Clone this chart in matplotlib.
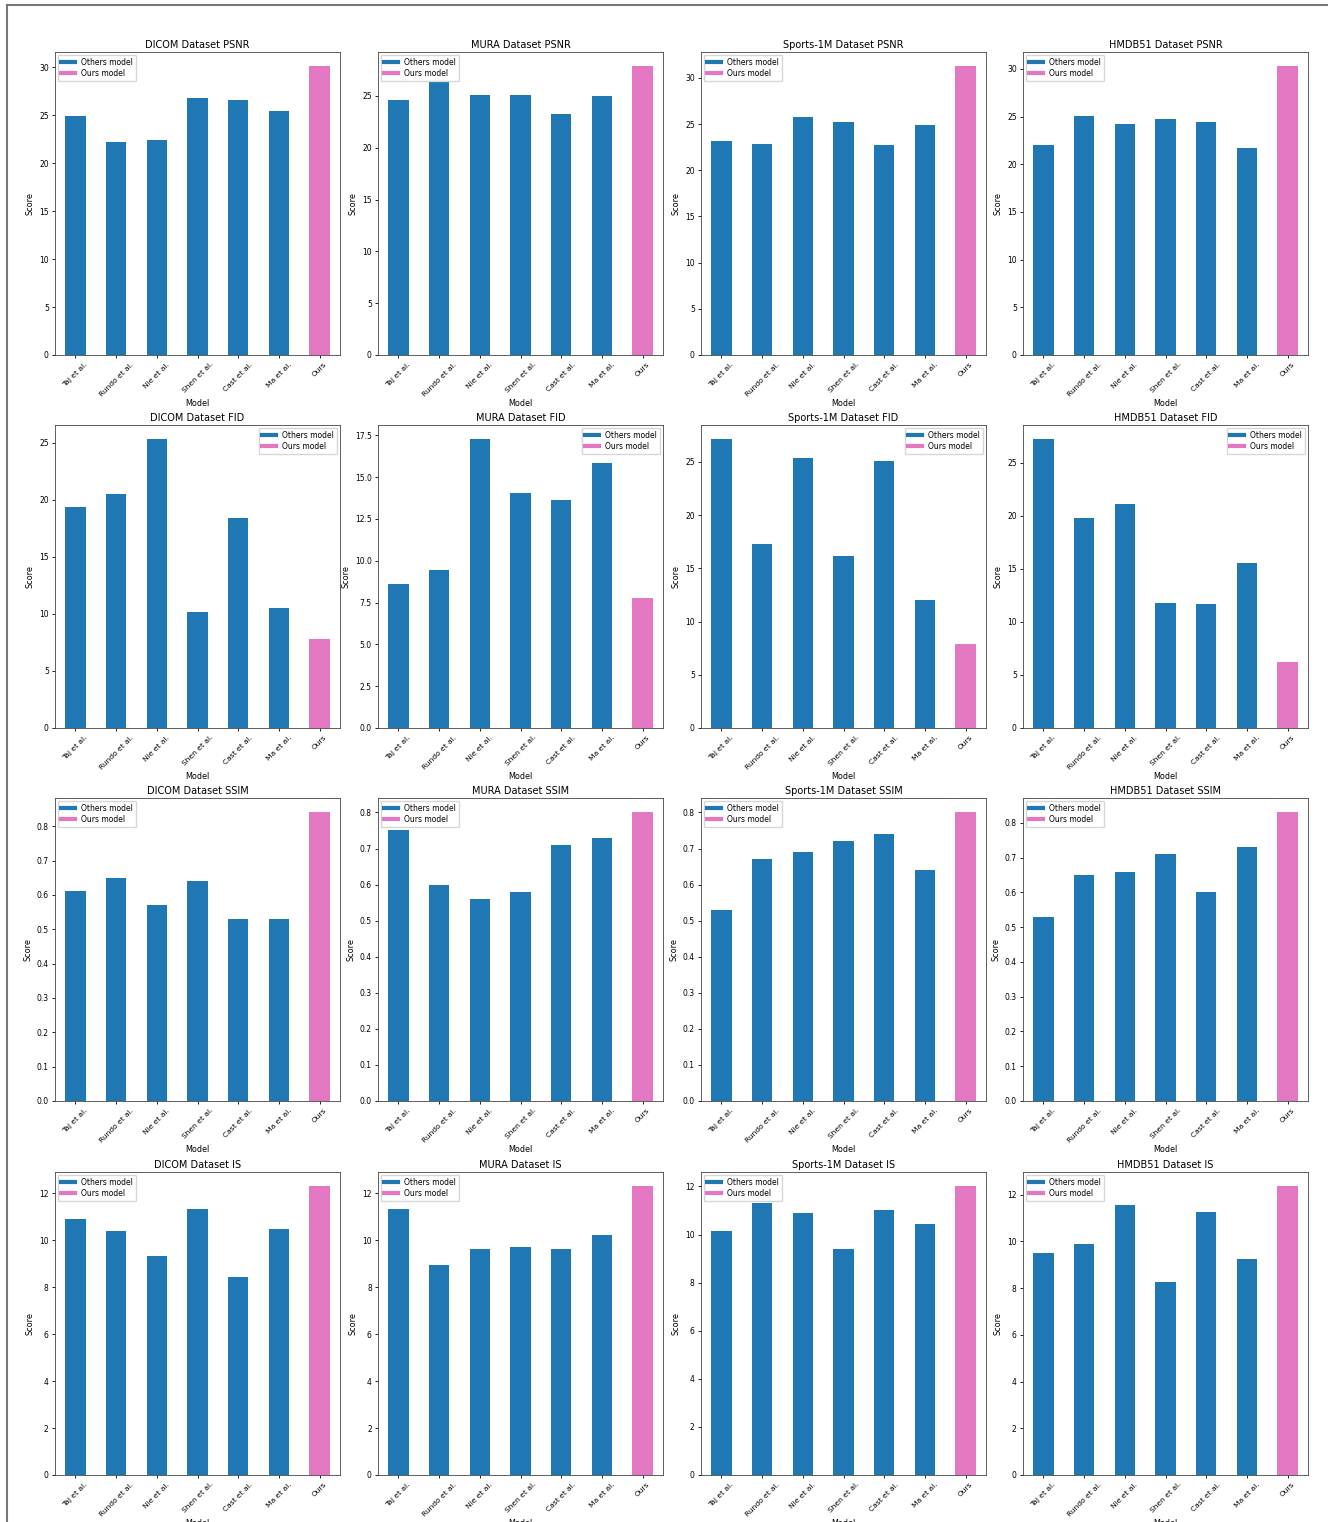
import matplotlib
matplotlib.use('Agg')
import matplotlib.pyplot as plt
from matplotlib.lines import Line2D

models = ['Taj et al.', 'Rundo et al.', 'Nie et al.', 'Shen et al.', 'Cast et al.', 'Ma et al.', 'Ours']
datasets = ['DICOM', 'MURA', 'Sports-1M', 'HMDB51']
metrics = ['PSNR', 'FID', 'SSIM', 'IS']

# PSNR per dataset
psnr_dicom = [24.95, 22.25, 22.4, 26.8, 26.6, 25.5, 30.1]
psnr_mura = [24.6, 26.35, 25.1, 25.1, 23.25, 25.0, 27.85]
psnr_sports = [23.15, 22.85, 25.75, 25.2, 22.7, 24.9, 31.25]
psnr_hmdb = [22.05, 25.1, 24.25, 24.7, 24.45, 21.7, 30.25]

# FID per dataset
fid_dicom = [19.4, 20.55, 25.3, 10.15, 18.45, 10.5, 7.8]
fid_mura = [8.6, 9.45, 17.25, 14.05, 13.65, 15.85, 7.75]
fid_sports = [27.1, 17.3, 25.35, 16.15, 25.05, 12.0, 7.9]
fid_hmdb = [27.2, 19.8, 21.1, 11.75, 11.7, 15.55, 6.2]

# SSIM per dataset
ssim_dicom = [0.61, 0.65, 0.57, 0.64, 0.53, 0.53, 0.84]
ssim_mura = [0.75, 0.60, 0.56, 0.58, 0.71, 0.73, 0.80]
ssim_sports = [0.53, 0.67, 0.69, 0.72, 0.74, 0.64, 0.80]
ssim_hmdb = [0.53, 0.65, 0.66, 0.71, 0.60, 0.73, 0.83]

# IS per dataset
is_dicom = [10.9, 10.4, 9.35, 11.35, 8.45, 10.5, 12.3]
is_mura = [11.35, 8.95, 9.65, 9.7, 9.65, 10.25, 12.3]
is_sports = [10.15, 11.3, 10.9, 9.4, 11.0, 10.45, 12.0]
is_hmdb = [9.5, 9.9, 11.55, 8.25, 11.25, 9.25, 12.35]

scores = {
    'PSNR': [psnr_dicom, psnr_mura, psnr_sports, psnr_hmdb],
    'FID': [fid_dicom, fid_mura, fid_sports, fid_hmdb],
    'SSIM': [ssim_dicom, ssim_mura, ssim_sports, ssim_hmdb],
    'IS': [is_dicom, is_mura, is_sports, is_hmdb],
}

blue = '#1f77b4'
pink = '#e377c2'

W, H = 1328, 1522
fig = plt.figure(figsize=(W / 100, H / 100), dpi=100)

lefts = [55, 378, 701, 1023]
tops = [52, 425, 798, 1172]
ax_w, ax_h = 285, 303

for r, metric in enumerate(metrics):
    for c, dname in enumerate(datasets):
        ax = fig.add_axes([lefts[c] / W, 1 - (tops[r] + ax_h) / H, ax_w / W, ax_h / H])
        vals = scores[metric][c]
        colors = [blue] * (len(models) - 1) + [pink]
        ax.bar(range(len(models)), vals, width=0.5, color=colors)
        ax.set_xlim(-0.5, len(models) - 0.5)
        ax.set_xticks(range(len(models)))
        ax.set_xticklabels(models, rotation=45, fontsize=5.4)
        ax.tick_params(axis='y', labelsize=5.5)
        ax.tick_params(length=2.5, width=0.6, pad=2)
        ax.set_title(f'{dname} Dataset {metric}', fontsize=7, pad=3)
        ax.set_xlabel('Model', fontsize=5.8, labelpad=1)
        ax.set_ylabel('Score', fontsize=5.8, labelpad=3)
        for s in ax.spines.values():
            s.set_linewidth(0.6)
            s.set_color('#444444')
        handles = [Line2D([0], [0], color=blue, lw=3), Line2D([0], [0], color=pink, lw=3)]
        loc = 'upper right' if metric == 'FID' else 'upper left'
        ax.legend(handles, ['Others model', 'Ours model'], loc=loc, fontsize=5.5,
                  handlelength=1.9, handletextpad=0.8, borderpad=0.4,
                  labelspacing=0.3, borderaxespad=0.35, framealpha=0.8)

# screenshot frame lines
fig.add_artist(Line2D([7 / W, 7 / W], [0, 1 - 5 / H], color='#777777', lw=1.5))
fig.add_artist(Line2D([7 / W, 1], [1 - 5 / H, 1 - 5 / H], color='#777777', lw=1.5))

fig.savefig('out.png', dpi=100)
